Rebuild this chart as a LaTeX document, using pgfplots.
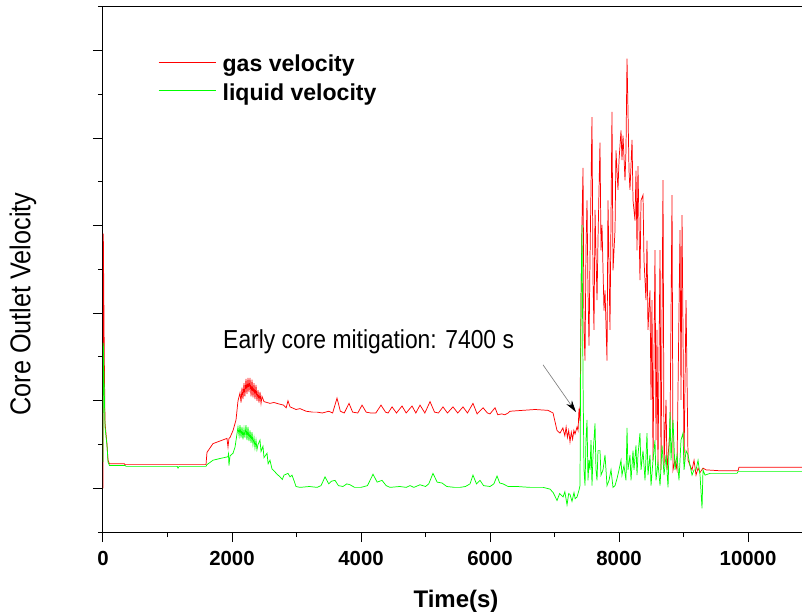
\documentclass[border=0pt]{standalone}
\usepackage{fontspec}
\setmainfont{Liberation Sans}
\newfontfamily\narrowfont[FakeStretch=0.88]{Liberation Sans}
\usepackage{pgfplots}
\pgfplotsset{compat=1.18}
\usetikzlibrary{arrows.meta}
\begin{document}
\begin{tikzpicture}
\path[use as bounding box] (-77.25pt,-60.75pt) rectangle (524.25pt,399pt);
\begin{axis}[
  scale only axis, width=524.25pt, height=393.75pt,
  at={(0,0)}, anchor=south west,
  xmin=0, xmax=10837, ymin=-0.5, ymax=5.5,
  axis lines=left, axis line style={-, line width=0.75pt, black},
  tick align=outside,
  major tick length=7.5pt, minor tick length=3.75pt,
  every tick/.style={black, line width=0.75pt},
  xtick={0,2000,4000,6000,8000,10000},
  minor xtick={1000,3000,5000,7000,9000},
  scaled x ticks=false,
  xticklabels={0,2000,4000,6000,8000,10000},
  ytick={0,1,2,3,4,5}, yticklabels={},
  minor ytick={-0.5,0.5,1.5,2.5,3.5,4.5,5.5},
  xticklabel style={font=\fontsize{15.3}{15.3}\selectfont\bfseries, yshift=-3.5pt},
  xlabel={Time(s)},
  xlabel style={at={(axis description cs:0.505,-0.1429)}, anchor=base, font=\fontsize{18}{18}\selectfont\bfseries},
  ylabel={\narrowfont Core Outlet Velocity},
  ylabel style={at={(axis description cs:-0.1144,0.434)}, anchor=center, rotate=0, font=\fontsize{21.5}{21.5}\selectfont},
  legend style={draw=none, fill=none, inner sep=0pt, at={(rel axis cs:0.0787,0.9086)}, anchor=north west,
    font=\fontsize{17.3}{17.3}\selectfont\bfseries, row sep=7pt, column sep=5pt, nodes={inner sep=0pt}},
  legend cell align=left,
  legend image code/.code={\draw[#1, line width=0.6pt] (0cm,0.18em) -- (1.5cm,0.18em);},
]
\addplot[red, line width=0.55pt] coordinates {
(0,0)(5,2.91)(20,1.5)(31,0.75)(62,0.5)(78,0.32)(100,0.28)(330,0.28)(341,0.27)(1597,0.27)(1612,0.41)(1705,0.51)(1814,0.54)(1922,0.57)(1938,0.47)(1953,0.57)(1969,0.58)(2016,0.66)(2062,0.78)(2093,1.00)(2124,1.09)(2140,0.98)(2155,1.15)(2170,1.02)(2186,1.20)(2200,1.05)(2217,1.25)(2232,1.08)(2248,1.26)(2263,1.10)(2279,1.26)(2295,1.05)(2310,1.24)(2325,1.04)(2341,1.20)(2356,1.02)(2372,1.18)(2387,1.00)(2403,1.12)(2418,0.98)(2434,1.10)(2450,0.97)(2465,1.05)(2496,0.99)(2543,0.98)(2589,0.97)(2650,0.98)(2744,0.96)(2800,0.95)(2840,0.92)(2868,1.00)(2900,0.93)(2992,0.90)(3054,0.91)(3150,0.88)(3250,0.87)(3318,0.87)
(3400,0.86)(3500,0.88)(3560,0.86)(3628,1.03)(3680,0.88)(3740,0.86)(3814,0.97)(3870,0.87)(3950,0.86)(4016,0.95)(4080,0.87)(4150,0.86)(4230,0.86)(4310,0.95)(4380,0.87)(4420,0.86)(4481,0.93)(4550,0.86)(4636,0.94)(4700,0.86)(4791,0.94)(4850,0.86)(4915,0.95)(4990,0.86)(5070,0.99)(5140,0.87)(5200,0.86)(5271,0.93)(5340,0.86)(5426,0.93)(5500,0.86)(5581,0.93)(5650,0.86)(5736,0.97)(5800,0.85)(5892,0.92)(5960,0.86)(6000,0.85)(6078,0.92)(6120,0.84)(6180,0.85)(6230,0.84)(6280,0.86)(6310,0.88)(6500,0.89)(6700,0.90)(6900,0.89)(6977,0.86)(7039,0.66)(7085,0.63)(7130,0.69)(7160,0.60)(7180,0.70)(7200,0.58)(7220,0.66)(7240,0.53)(7260,0.64)(7280,0.56)(7300,0.66)(7318,0.62)(7349,0.70)(7365,0.66)(7380,0.91)(7395,0.77)
(7411,2.15)(7426,3.03)(7442,3.66)(7457,1.81)(7473,1.46)(7488,2.72)(7504,3.29)(7519,2.26)(7535,1.63)(7550,2.61)(7581,4.24)(7597,2.38)(7612,1.81)(7628,3.18)(7659,2.15)(7674,2.83)(7705,3.95)(7721,2.72)(7736,3.01)(7767,2.03)(7783,2.26)(7814,1.46)(7829,3.29)(7860,1.81)(7891,4.30)(7907,2.49)(7938,2.95)(7953,3.86)(7984,3.41)(8000,3.75)(8031,4.09)(8046,3.75)(8062,4.03)(8093,3.52)(8108,3.86)(8124,4.91)(8139,4.32)(8155,3.63)(8170,3.41)(8202,3.98)(8217,3.29)(8248,3.06)(8263,3.63)(8279,2.72)(8294,3.68)(8325,2.38)(8341,3.29)(8372,3.35)(8387,2.61)(8418,2.15)(8434,2.83)(8449,1.81)(8480,2.26)(8496,1.01)(8511,2.15)(8527,0.32)(8558,2.72)(8573,0.55)(8589,1.81)(8604,0.26)(8636,2.72)(8651,0.21)(8667,1.92)(8682,3.52)(8698,0.26)(8729,1.01)(8744,0.21)(8791,0.66)(8822,3.35)(8837,0.21)(8868,0.32)(8899,0.21)(8946,2.95)(8961,1.01)(8977,3.12)(9008,0.32)(9039,2.15)(9070,0.32)(9101,0.26)(9132,0.21)(9163,0.32)(9194,0.15)(9225,0.23)(9256,0.18)(9302,0.23)(9349,0.21)(9566,0.20)(9845,0.20)(9860,0.24)(10837,0.24)
};
\addlegendentry{gas velocity}
\addplot[green, line width=0.55pt] coordinates {
(0,0.30)(5,1.66)(31,0.70)(62,0.49)(78,0.30)(100,0.26)(341,0.26)(360,0.25)(1150,0.25)(1163,0.23)(1180,0.25)(1597,0.25)(1612,0.27)(1705,0.32)(1814,0.34)(1938,0.36)(1945,0.39)(1953,0.26)(1969,0.37)(2016,0.40)(2047,0.47)(2093,0.70)(2110,0.60)(2124,0.72)(2140,0.58)(2155,0.70)(2170,0.56)(2186,0.68)(2200,0.58)(2217,0.72)(2232,0.55)(2248,0.70)(2263,0.54)(2279,0.66)(2295,0.52)(2310,0.64)(2325,0.50)(2341,0.58)(2356,0.46)(2372,0.55)(2387,0.44)(2403,0.50)(2434,0.55)(2450,0.42)(2480,0.48)(2496,0.35)(2543,0.40)(2560,0.28)(2589,0.32)(2620,0.22)(2636,0.21)(2700,0.16)(2744,0.13)(2780,0.10)(2806,0.15)(2868,0.17)(2900,0.13)(2930,0.15)(2960,0.09)(2992,0.02)(3054,0.01)(3200,0.02)(3318,0.01)
(3380,0.03)(3442,0.13)(3500,0.05)(3540,0.08)(3597,0.09)(3650,0.03)(3720,0.02)(3780,0.05)(3829,0.04)(3900,0.01)(4000,0.01)(4100,0.03)(4186,0.16)(4250,0.07)(4326,0.09)(4390,0.03)(4450,0.01)(4600,0.02)(4700,0.01)(4760,0.03)(4820,0.01)(4915,0.04)(5000,0.02)(5050,0.05)(5116,0.17)(5180,0.07)(5256,0.06)(5330,0.02)(5450,0.01)(5535,0.01)(5620,0.02)(5690,0.05)(5736,0.15)(5790,0.05)(5845,0.09)(5900,0.03)(6000,0.02)(6060,0.05)(6109,0.14)(6150,0.06)(6202,0.05)(6280,0.02)(6419,0.02)(6620,0.01)(6822,0.01)(6930,-0.01)(6980,-0.05)(7039,-0.14)(7080,-0.06)(7132,-0.10)(7160,-0.04)(7194,-0.19)(7220,-0.06)(7240,-0.07)(7271,-0.15)(7302,-0.05)(7320,-0.12)(7349,-0.10)(7380,-0.02)(7395,0.03)
(7411,2.15)(7426,3.01)(7442,1.23)(7457,0.21)(7473,0.03)(7488,0.55)(7504,0.78)(7519,0.09)(7535,0.32)(7550,0.21)(7566,0.55)(7581,0.03)(7597,0.38)(7628,0.74)(7643,0.21)(7659,0.09)(7674,0.43)(7705,0.43)(7721,0.15)(7752,0.21)(7783,0.38)(7814,0.03)(7845,0.09)(7876,0.21)(7907,0.01)(7938,0.03)(7969,0.11)(8000,0.21)(8031,0.32)(8046,0.15)(8077,0.26)(8108,0.09)(8124,0.69)(8139,0.21)(8170,0.38)(8186,0.09)(8217,0.43)(8232,0.21)(8263,0.49)(8279,0.15)(8294,0.38)(8325,0.63)(8341,0.21)(8372,0.43)(8403,0.09)(8434,0.63)(8449,0.15)(8480,0.38)(8496,0.03)(8527,0.32)(8558,0.55)(8573,0.09)(8604,0.29)(8636,0.03)(8667,0.49)(8698,0.15)(8729,0.38)(8760,0.01)(8791,0.87)(8806,0.32)(8837,0.78)(8868,0.21)(8899,0.38)(8930,0.09)(8961,0.55)(8992,0.63)(9008,0.21)(9039,0.43)(9070,0.38)(9101,0.26)(9132,0.15)(9163,0.21)(9194,0.21)(9225,0.32)(9256,0.15)(9287,-0.23)(9302,0.21)(9333,0.15)(9411,0.17)(9566,0.17)(9829,0.17)(9845,0.19)(10837,0.19)
};
\addlegendentry{liquid velocity}
\node[anchor=base west, font=\narrowfont\fontsize{19.5}{19.5}\selectfont, inner sep=0pt] at (axis cs:1860,1.6) {Early core mitigation: 7400 s};
\draw[gray, line width=0.5pt, -{Stealth[length=9pt,width=5pt,black]}] (axis cs:6822,1.41) -- (axis cs:7333,0.87);
\end{axis}
\draw[line width=0.75pt] (0,393.75pt) -- (524.25pt,393.75pt);
\end{tikzpicture}
\end{document}
